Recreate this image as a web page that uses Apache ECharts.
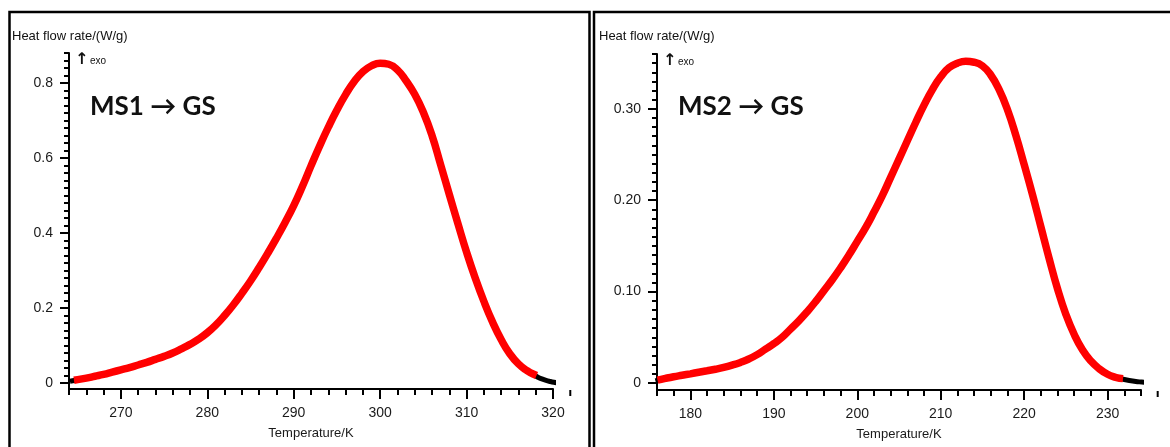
<!DOCTYPE html>
<html><head><meta charset="utf-8">
<script src="https://cdn.jsdelivr.net/npm/echarts@6/dist/echarts.min.js"></script>
<style>html,body{margin:0;padding:0;background:#fff}#c{width:1170px;height:447px}</style>
</head><body><div id="c"></div>
<script>
// ---------- Panel 1: MS1 -> GS ----------
const ms1RedTemp = [265,266,267,268,269,270,271,272,273,274,275,276,277,278,279,280,281,282,283,284,285,286,287,288,289,290,291,292,293,294,295,296,297,298,299,300,301,302,303,304,305,306,307,308,309,310,311,312,313,314,315,316,317,317.7];
const ms1RedHeat = [0.009,0.013,0.018,0.023,0.029,0.035,0.041,0.048,0.055,0.063,0.071,0.080,0.091,0.103,0.117,0.134,0.155,0.180,0.208,0.239,0.272,0.308,0.346,0.386,0.428,0.473,0.524,0.579,0.632,0.682,0.728,0.769,0.804,0.830,0.846,0.853,0.850,0.835,0.806,0.770,0.722,0.660,0.582,0.503,0.425,0.349,0.280,0.218,0.163,0.116,0.078,0.051,0.033,0.024];
const ms1BlackStartTemp = [264.4,264.9];
const ms1BlackStartHeat = [0.006,0.008];
const ms1BlackEndTemp = [317.7,318.2,318.7,319.2,319.7,320.1];
const ms1BlackEndHeat = [0.024,0.016,0.011,0.007,0.004,0.002];
const ms1XTicks = [270,280,290,300,310,320];
const ms1XLabels = ['270','280','290','300','310','320'];
const ms1YTicks = [0,0.2,0.4,0.6,0.8];
const ms1YLabels = ['0','0.2','0.4','0.6','0.8'];

// ---------- Panel 2: MS2 -> GS ----------
const ms2RedTemp = [176.5,177,178,179,180,181,182,183,184,185,186,187,188,189,190,191,192,193,194,195,196,197,198,199,200,201,202,203,204,205,206,207,208,209,210,211,212,213,214,215,216,217,218,219,220,221,222,223,224,225,226,227,228,229,230,231,231.4];
const ms2RedHeat = [0.004,0.005,0.0068,0.0084,0.0100,0.0117,0.0133,0.0150,0.0170,0.0195,0.0225,0.0262,0.031,0.037,0.043,0.050,0.059,0.068,0.078,0.089,0.101,0.113,0.126,0.140,0.155,0.170,0.187,0.205,0.225,0.245,0.265,0.285,0.304,0.321,0.335,0.345,0.350,0.352,0.351,0.347,0.337,0.321,0.299,0.271,0.239,0.206,0.171,0.136,0.103,0.075,0.053,0.036,0.024,0.0155,0.0095,0.006,0.0052];
const ms2BlackStartTemp = [176.1,176.5];
const ms2BlackStartHeat = [0.003,0.004];
const ms2BlackEndTemp = [231.4,232,232.6,233.2,233.8,234.1];
const ms2BlackEndHeat = [0.0052,0.0038,0.0027,0.0019,0.0012,0.001];
const ms2XTicks = [180,190,200,210,220,230];
const ms2XLabels = ['180','190','200','210','220','230'];
const ms2YTicks = [0,0.1,0.2,0.3];
const ms2YLabels = ['0','0.10','0.20','0.30'];

function range(a, b, step, dec) {
  const out = [];
  for (let v = a; v <= b + step / 2; v += step) out.push(Math.round(v * Math.pow(10, dec)) / Math.pow(10, dec));
  return out;
}
const ms1XMinor = range(264, 320, 2, 0);
const ms1YMinor = range(0, 0.88, 0.02, 2);
const ms2XMinor = range(176, 234, 2, 0);
const ms2YMinor = range(0, 0.36, 0.01, 2);

function pairs(xs, ys) { return xs.map((x, i) => [x, ys[i]]); }

const FONT = "'Liberation Sans', Arial, sans-serif";
const AX = { color: '#000', width: 2 };

function xMajor(grid, min, max, ticks, labels) {
  return {
    type: 'value', gridIndex: grid, position: 'bottom', min: min, max: max,
    axisLine: { show: true, onZero: false, lineStyle: AX },
    axisTick: { show: true, customValues: ticks, length: 10, lineStyle: AX },
    axisLabel: { customValues: ticks, margin: 17, fontSize: 14, color: '#1a1a1a', fontFamily: FONT,
      formatter: v => { const i = ticks.indexOf(v); return i >= 0 ? labels[i] : ''; } },
    splitLine: { show: false },
    name: 'Temperature/K', nameLocation: 'middle', nameGap: 38,
    nameTextStyle: { fontSize: 13, color: '#1a1a1a', fontFamily: FONT }
  };
}
function xMinor(grid, min, max, ticks) {
  return {
    type: 'value', gridIndex: grid, position: 'bottom', min: min, max: max,
    axisLine: { show: false, onZero: false },
    axisTick: { show: true, customValues: ticks, length: 6, lineStyle: AX },
    axisLabel: { show: false }, splitLine: { show: false }
  };
}
function yMajor(grid, min, max, ticks, labels) {
  return {
    type: 'value', gridIndex: grid, position: 'left', min: min, max: max,
    axisLine: { show: true, onZero: false, lineStyle: AX },
    axisTick: { show: true, customValues: ticks, length: 9, lineStyle: AX },
    axisLabel: { customValues: ticks, margin: 16, fontSize: 14, color: '#1a1a1a', fontFamily: FONT,
      formatter: v => { const i = ticks.findIndex(t => Math.abs(t - v) < 1e-9); return i >= 0 ? labels[i] : ''; } },
    splitLine: { show: false }
  };
}
function yMinor(grid, min, max, ticks) {
  return {
    type: 'value', gridIndex: grid, position: 'left', min: min, max: max,
    axisLine: { show: false, onZero: false },
    axisTick: { show: true, customValues: ticks, length: 5, lineStyle: AX },
    axisLabel: { show: false }, splitLine: { show: false }
  };
}
function curve(xi, yi, data, color, width, z) {
  return { type: 'line', xAxisIndex: xi, yAxisIndex: yi, data: data, smooth: 0.5, showSymbol: false,
    symbol: 'none', lineStyle: { color: color, width: width, cap: 'square' }, z: z, silent: true, animation: false };
}
function txt(x, y, text, size, weight, family) {
  return { type: 'text', x: x, y: y, silent: true,
    style: { text: text, fill: '#111', font: (weight || 'normal') + ' ' + size + 'px ' + (family || FONT), verticalAlign: 'middle' } };
}

const chart = echarts.init(document.getElementById('c'), null, { renderer: 'canvas' });
const graphics = [
  { type: 'rect', silent: true, shape: { x: 9.5, y: 12, width: 580, height: 460 }, style: { fill: 'transparent', stroke: '#000', lineWidth: 2.5 } },
  { type: 'rect', silent: true, shape: { x: 594, y: 12, width: 620, height: 460 }, style: { fill: 'transparent', stroke: '#000', lineWidth: 2.5 } },
  txt(12, 36, 'Heat flow rate/(W/g)', 13),
  txt(599, 36, 'Heat flow rate/(W/g)', 13),
  txt(75, 60, '↑', 16, 'bold', "'DejaVu Sans', sans-serif"),
  txt(90, 61, 'exo', 10),
  txt(663, 61, '↑', 16, 'bold', "'DejaVu Sans', sans-serif"),
  txt(678, 62, 'exo', 10),
  txt(90, 107, 'MS1 → GS', 26, 'bold', "Lato, 'Noto Sans', sans-serif"),
  txt(678, 107, 'MS2 → GS', 26, 'bold', "Lato, 'Noto Sans', sans-serif")
];
chart.setOption({
  animation: false,
  backgroundColor: '#fff',
  grid: [
    { left: 69, top: 53, width: 484, height: 336 },
    { left: 657, top: 54, width: 484, height: 336 }
  ],
  xAxis: [
    xMajor(0, 264, 320, ms1XTicks, ms1XLabels), xMinor(0, 264, 320, ms1XMinor),
    xMajor(1, 176, 234, ms2XTicks, ms2XLabels), xMinor(1, 176, 234, ms2XMinor)
  ],
  yAxis: [
    yMajor(0, -0.016, 0.88, ms1YTicks, ms1YLabels), yMinor(0, -0.016, 0.88, ms1YMinor),
    yMajor(1, -0.0077, 0.36, ms2YTicks, ms2YLabels), yMinor(1, -0.0077, 0.36, ms2YMinor)
  ],
  series: [
    curve(0, 0, pairs(ms1BlackStartTemp, ms1BlackStartHeat), '#000', 5, 3),
    curve(0, 0, pairs(ms1BlackEndTemp, ms1BlackEndHeat), '#000', 5, 3),
    curve(0, 0, pairs(ms1RedTemp, ms1RedHeat), '#ff0000', 7.5, 4),
    curve(2, 2, pairs(ms2BlackStartTemp, ms2BlackStartHeat), '#000', 5, 3),
    curve(2, 2, pairs(ms2BlackEndTemp, ms2BlackEndHeat), '#000', 5, 3),
    curve(2, 2, pairs(ms2RedTemp, ms2RedHeat), '#ff0000', 7.5, 4)
  ],
  graphic: graphics
});
// detached tick just past each axis end (next minor tick position)
const strayL = chart.convertToPixel({ xAxisIndex: 0 }, 322);
const strayR = chart.convertToPixel({ xAxisIndex: 2 }, 236);
const axisYL = chart.convertToPixel({ yAxisIndex: 0 }, -0.016);
const axisYR = chart.convertToPixel({ yAxisIndex: 2 }, -0.0077);
graphics.push(
  { type: 'line', silent: true, shape: { x1: strayL, y1: axisYL + 1, x2: strayL, y2: axisYL + 7 }, style: { stroke: '#000', lineWidth: 2 } },
  { type: 'line', silent: true, shape: { x1: strayR, y1: axisYR + 1, x2: strayR, y2: axisYR + 7 }, style: { stroke: '#000', lineWidth: 2 } }
);
chart.setOption({ graphic: graphics });
</script>
</body></html>
